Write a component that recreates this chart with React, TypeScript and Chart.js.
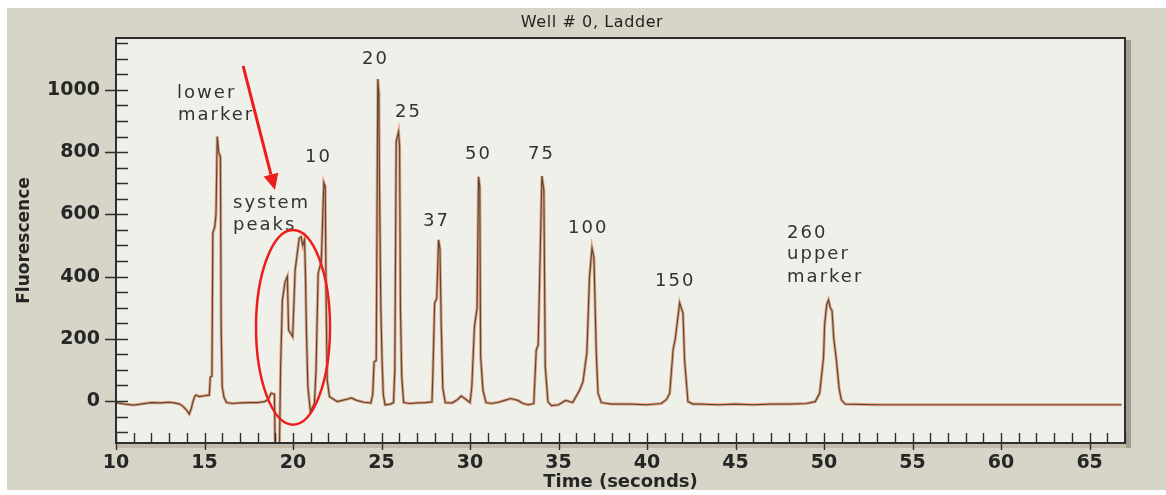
import { useEffect, useRef } from "react";
import { Chart, registerables } from "chart.js";

Chart.register(...registerables);

// Electropherogram of the ladder well: migration time (s) and fluorescence signal
const traceTime = [
  10.0, 10.5, 11.0, 11.5, 12.0, 12.5, 13.0, 13.3, 13.6, 13.8, 14.0, 14.14, 14.25, 14.33, 14.45, 14.52, 14.71, 15.0, 15.27,
  15.33, 15.42, 15.47, 15.58, 15.65, 15.72, 15.8, 15.9, 15.94, 16.0, 16.1, 16.25,
  16.6, 17.0, 17.5, 18.0, 18.4, 18.6, 18.76, 18.95,
  19.0, 19.22, 19.3, 19.4, 19.55, 19.68, 19.75, 19.98, 20.12, 20.35, 20.46, 20.55, 20.65, 20.7, 20.76, 20.84, 20.98,
  21.21, 21.3, 21.42, 21.6, 21.74, 21.82, 21.87, 21.93, 22.06, 22.5,
  23.0, 23.3, 23.6, 24.0, 24.4, 24.5, 24.58, 24.7, 24.79, 24.85, 24.88, 24.96, 25.03, 25.1, 25.2, 25.5,
  25.68, 25.75, 25.83, 25.96, 26.02, 26.07, 26.14, 26.25, 26.6, 27.0, 27.5,
  27.85, 27.9, 28.0, 28.12, 28.22, 28.3, 28.37, 28.46, 28.6, 29.0, 29.3, 29.5, 29.7, 30.0,
  30.1, 30.25, 30.4, 30.48, 30.55, 30.6, 30.73, 30.9, 31.2, 31.6, 32.0, 32.3, 32.7, 33.0, 33.3, 33.6,
  33.74, 33.85, 34.06, 34.17, 34.25, 34.4, 34.6, 35.0, 35.4, 35.8,
  36.19, 36.38, 36.6, 36.75, 36.89, 37.0, 37.13, 37.23, 37.42, 38.0, 39.0, 40.0, 40.8, 41.1,
  41.28, 41.47, 41.6, 41.84, 42.03, 42.12, 42.31, 42.6, 43.0, 44.0, 45.0, 46.0, 47.0, 48.0, 49.0, 49.5,
  49.75, 49.97, 50.03, 50.15, 50.25, 50.35, 50.45, 50.55, 50.7, 50.85, 50.98, 51.2, 53.0, 56.0, 60.0, 63.0, 66.8,
];
const traceSignal = [
  -5, -10, -13, -9, -5, -6, -4, -6, -10, -18, -30, -42, -25, -5, 15, 19, 14, 17, 19,
  77, 80, 540, 560, 600, 850, 800, 785, 238, 45, 12, -5,
  -8, -6, -5, -5, -2, 5, 25, 22,
  -200, -200, 110, 325, 383, 400, 228, 207, 421, 524, 528, 500, 518, 416, 218, 46, -34,
  -8, 100, 410, 450, 702, 690, 325, 68, 14, -2,
  5, 10, 2, -4, -6, 20, 126, 130, 1035, 990, 721, 300, 130, 20, -12, -10,
  -5, 100, 834, 866, 820, 300, 80, -5, -8, -6, -5,
  -3, 84, 315, 330, 518, 490, 255, 42, -5, -6, 5, 16, 8, -5,
  46, 239, 300, 721, 690, 142, 35, -5, -8, -4, 3, 8, 2, -8, -12, -8,
  164, 180, 723, 678, 110, -2, -15, -12, 2, -5,
  35, 62, 155, 400, 492, 460, 158, 25, -5, -10, -10, -12, -8, 5,
  25, 164, 202, 316, 282, 131, -2, -10, -10, -12, -10, -12, -10, -10, -8, -2,
  25, 140, 244, 310, 325, 300, 290, 200, 130, 40, 3, -10, -12, -12, -12, -12, -12,
];

// Axis ranges and tick spacing
const timeMin = 10;
const timeMax = 67;
const timeMinorStep = 1;
const timeMajorStep = 5;
const signalMin = -135;
const signalMax = 1167;
const signalMinorStep = 50;
const signalMajorStep = 200;

// Peak annotations: text, time of the text's left edge, signal at its baseline
const peakLabelText = ["lower", "marker", "system", "peaks", "10", "20", "25", "37", "50", "75", "100", "150", "260", "upper", "marker"];
const peakLabelTime = [13.45, 13.5, 16.61, 16.61, 20.68, 23.9, 25.76, 27.34, 29.72, 33.28, 35.54, 40.45, 47.91, 47.91, 47.91];
const peakLabelSignal = [974, 904, 621, 550, 767, 1082, 913, 564, 777, 777, 539, 371, 524, 455, 384];

// Highlight of the system peaks: arrow (start, tip) and enclosing ellipse (centre, half extents)
const arrowTime = [17.18, 18.98];
const arrowSignal = [1077, 678];
const ellipseCenter = [20.0, 237];
const ellipseHalf = [2.09, 313];

const titleText = "Well # 0, Ladder";

const FONT = "'DejaVu Sans', 'Verdana', sans-serif";
const FRAME_BG = "#d7d5c7";
const PLOT_BG = "#eef0e9";
const INK = "#262626";
const MARK_RED = "#ee1d1d";

// tick values on an evenly spaced grid inside [lo, hi]
function gridTicks(lo: number, hi: number, step: number) {
  const out: { value: number }[] = [];
  for (let k = Math.ceil(lo / step); k * step <= hi; k++) out.push({ value: k * step });
  return out;
}

const decorPlugin = {
  id: "decor",
  beforeDraw(chart: any) {
    const { ctx, width, height, chartArea: a } = chart;
    ctx.save();
    ctx.fillStyle = "#ffffff";
    ctx.fillRect(0, 0, width, height);
    ctx.fillStyle = FRAME_BG;
    ctx.fillRect(7, 8, width - 7, 482);
    ctx.fillStyle = PLOT_BG;
    ctx.fillRect(a.left, a.top, a.right - a.left, a.bottom - a.top);
    ctx.restore();
  },
  afterDatasetsDraw(chart: any) {
    const { ctx, chartArea: a } = chart;
    const xs = chart.scales.x;
    const ys = chart.scales.y;
    ctx.save();

    // shadow along the right and bottom edges of the plot
    ctx.fillStyle = "#a19f94";
    ctx.fillRect(a.right + 1, a.top + 2, 5, a.bottom - a.top + 3);
    ctx.fillStyle = "#c4bcab";
    ctx.fillRect(a.left, a.bottom + 1, a.right - a.left + 1, 4);

    // plot frame
    ctx.strokeStyle = "#2e2e2e";
    ctx.lineWidth = 2;
    ctx.strokeRect(a.left, a.top, a.right - a.left, a.bottom - a.top);

    // tick marks drawn inside the frame; labelled ones cross the axis
    ctx.lineWidth = 1.4;
    ctx.strokeStyle = "#2e2e2e";
    ctx.beginPath();
    for (const t of xs.ticks) {
      const v = t.value;
      const px = Math.round(xs.getPixelForValue(v)) + 0.5;
      const major = Math.round(v) % timeMajorStep === 0;
      ctx.moveTo(px, a.bottom - 10);
      ctx.lineTo(px, major ? a.bottom + 7 : a.bottom);
    }
    for (const t of ys.ticks) {
      const v = t.value;
      const py = Math.round(ys.getPixelForValue(v)) + 0.5;
      const major = v >= 0 && Math.round(v) % signalMajorStep === 0;
      ctx.moveTo(major ? a.left - 11 : a.left, py);
      ctx.lineTo(a.left + 12, py);
    }
    ctx.stroke();

    // title
    ctx.fillStyle = "#1f1f1f";
    ctx.font = `16px ${FONT}`;
    (ctx as any).letterSpacing = "0.6px";
    ctx.textAlign = "center";
    ctx.textBaseline = "alphabetic";
    ctx.fillText(titleText, 592, 27);

    // peak labels
    ctx.fillStyle = "#333333";
    ctx.font = `18px ${FONT}`;
    (ctx as any).letterSpacing = "2px";
    ctx.textAlign = "left";
    for (let i = 0; i < peakLabelText.length; i++) {
      ctx.fillText(peakLabelText[i], xs.getPixelForValue(peakLabelTime[i]), ys.getPixelForValue(peakLabelSignal[i]));
    }
    (ctx as any).letterSpacing = "0px";

    // red ellipse around the system peaks
    const cx = xs.getPixelForValue(ellipseCenter[0]);
    const cy = ys.getPixelForValue(ellipseCenter[1]);
    const rx = Math.abs(xs.getPixelForValue(ellipseCenter[0] + ellipseHalf[0]) - cx);
    const ry = Math.abs(ys.getPixelForValue(ellipseCenter[1] + ellipseHalf[1]) - cy);
    ctx.strokeStyle = MARK_RED;
    ctx.lineWidth = 2.5;
    ctx.beginPath();
    ctx.ellipse(cx, cy, rx, ry, 0, 0, Math.PI * 2);
    ctx.stroke();

    // red arrow pointing at the system peaks
    const x0 = xs.getPixelForValue(arrowTime[0]);
    const y0 = ys.getPixelForValue(arrowSignal[0]);
    const x1 = xs.getPixelForValue(arrowTime[1]);
    const y1 = ys.getPixelForValue(arrowSignal[1]);
    const ang = Math.atan2(y1 - y0, x1 - x0);
    const headLen = 16;
    const headHalf = 7.5;
    const bx = x1 - headLen * Math.cos(ang);
    const by = y1 - headLen * Math.sin(ang);
    ctx.lineWidth = 3;
    ctx.beginPath();
    ctx.moveTo(x0, y0);
    ctx.lineTo(bx, by);
    ctx.stroke();
    ctx.fillStyle = MARK_RED;
    ctx.beginPath();
    ctx.moveTo(x1, y1);
    ctx.lineTo(bx + headHalf * Math.sin(ang), by - headHalf * Math.cos(ang));
    ctx.lineTo(bx - headHalf * Math.sin(ang), by + headHalf * Math.cos(ang));
    ctx.closePath();
    ctx.fill();

    ctx.restore();
  },
};

export default function App() {
  const canvasRef = useRef<HTMLCanvasElement | null>(null);

  useEffect(() => {
    const canvas = canvasRef.current;
    if (!canvas) return;
    const points = traceTime.map((t, i) => ({ x: t, y: traceSignal[i] }));

    const chart = new Chart(canvas, {
      type: "line",
      data: {
        datasets: [
          {
            data: points,
            borderColor: "rgba(228,136,88,0.75)",
            borderWidth: 3,
            pointRadius: 0,
            tension: 0,
            order: 2,
          },
          {
            data: points,
            borderColor: "rgba(72,64,58,0.9)",
            borderWidth: 1.2,
            pointRadius: 0,
            tension: 0,
            order: 1,
          },
        ],
      },
      options: {
        responsive: false,
        animation: false,
        devicePixelRatio: 1,
        events: [],
        layout: { padding: { left: 7, right: 41, top: 38, bottom: 2 } },
        plugins: {
          legend: { display: false },
          tooltip: { enabled: false },
          title: { display: false },
        },
        scales: {
          x: {
            type: "linear",
            min: timeMin,
            max: timeMax,
            afterBuildTicks: (s: any) => {
              s.ticks = gridTicks(timeMin, timeMax, timeMinorStep);
            },
            afterFit: (s: any) => {
              s.height = 50;
            },
            border: { display: false },
            grid: { display: true, drawOnChartArea: false, drawTicks: false },
            ticks: {
              autoSkip: false,
              maxRotation: 0,
              padding: 9,
              color: INK,
              font: { family: FONT, size: 19, weight: "bold" },
              callback: (v: any) => (Math.round(v) % timeMajorStep === 0 ? String(Math.round(v)) : ""),
            },
            title: {
              display: true,
              text: "Time (seconds)",
              color: INK,
              font: { family: FONT, size: 18, weight: "bold" },
              padding: { top: 0, bottom: 0 },
            },
          },
          y: {
            type: "linear",
            min: signalMin,
            max: signalMax,
            afterBuildTicks: (s: any) => {
              s.ticks = gridTicks(signalMin, signalMax, signalMinorStep);
            },
            afterFit: (s: any) => {
              s.width = 109;
            },
            border: { display: false },
            grid: { display: true, drawOnChartArea: false, drawTicks: false },
            ticks: {
              autoSkip: false,
              padding: 16,
              color: INK,
              font: { family: FONT, size: 19, weight: "bold" },
              callback: (v: any) => (v >= 0 && Math.round(v) % signalMajorStep === 0 ? String(Math.round(v)) : ""),
            },
            title: {
              display: true,
              text: "Fluorescence",
              color: INK,
              font: { family: FONT, size: 17, weight: "bold" },
              padding: { top: 7, bottom: 0 },
            },
          },
        },
      },
      plugins: [decorPlugin],
    } as any);

    return () => chart.destroy();
  }, []);

  return (
    <div style={{ position: "absolute", left: 0, top: 0, width: 1166, height: 495 }}>
      <canvas ref={canvasRef} width={1166} height={495} style={{ width: 1166, height: 495, display: "block" }} />
    </div>
  );
}
